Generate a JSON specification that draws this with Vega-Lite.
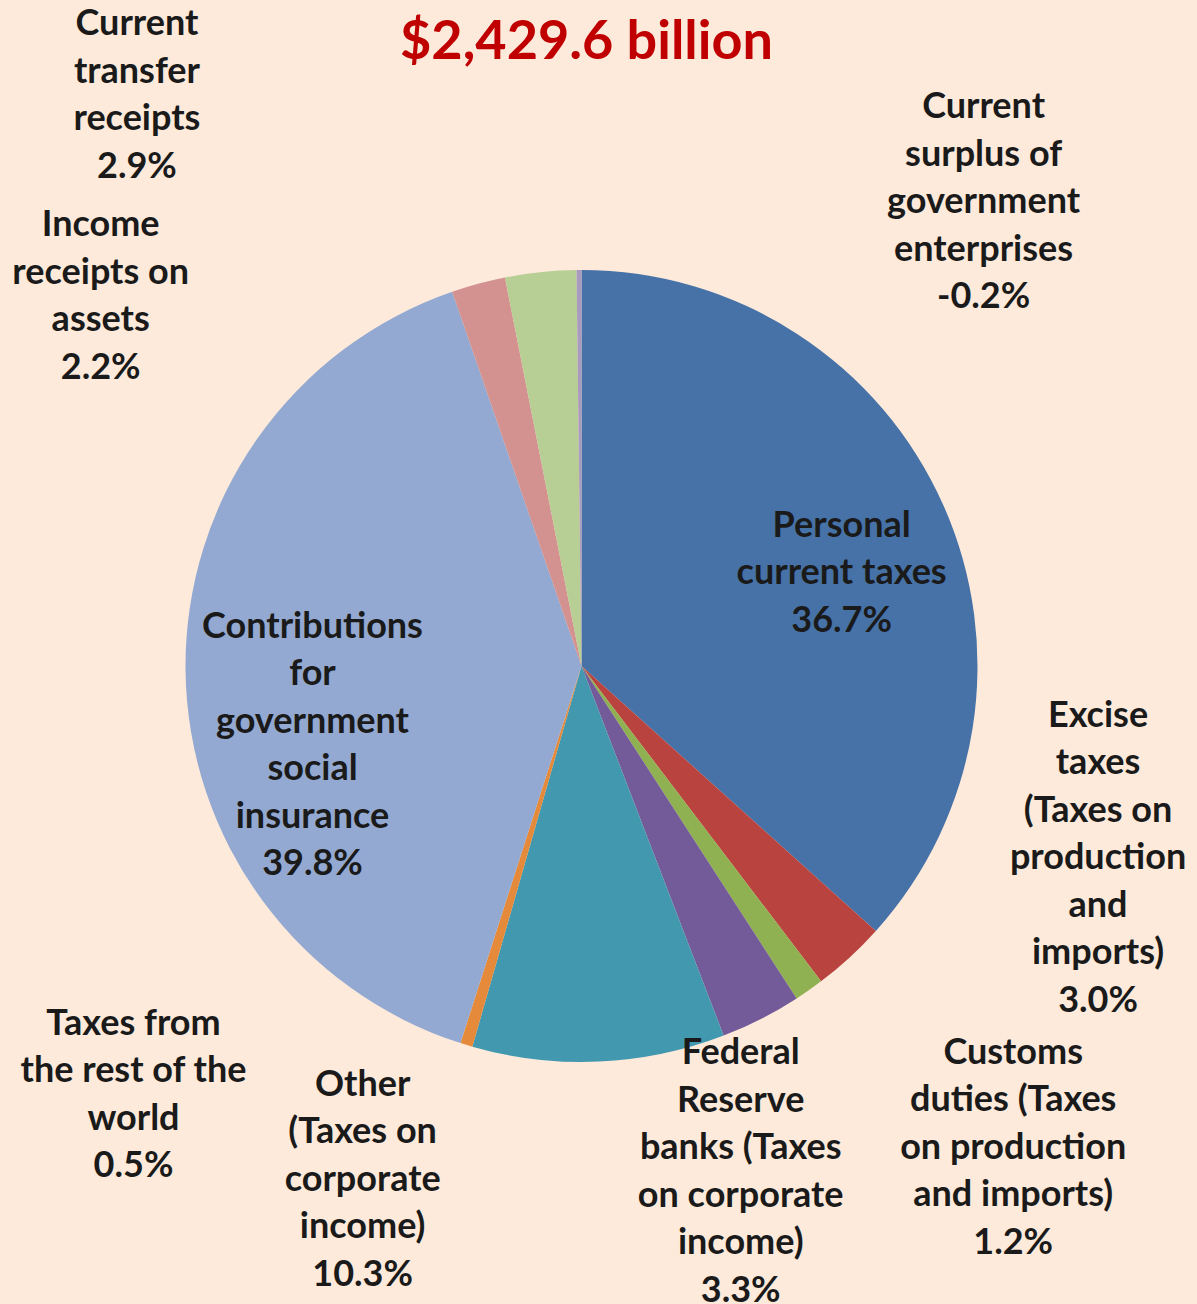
{
  "$schema": "https://vega.github.io/schema/vega-lite/v6.json",
  "width": 1163,
  "height": 1276,
  "autosize": {"type": "none"},
  "padding": {"left": 0, "top": 28, "right": 34, "bottom": 0},
  "background": "#FDEADB",
  "config": {"view": {"stroke": null}},
  "title": {
    "text": "$2,429.6 billion",
    "font": "Lato",
    "fontSize": 54,
    "fontWeight": "bold",
    "color": "#C00000",
    "anchor": "middle",
    "offset": -240,
    "dx": 5
  },
  "data": {
    "values": [
      {"cat": "personal", "label": "Personal\ncurrent taxes\n36.7%", "share": 36.7, "order": 1},
      {"cat": "excise", "label": "Excise\ntaxes\n(Taxes on\nproduction\nand\nimports)\n3.0%", "share": 3.0, "order": 2},
      {"cat": "customs", "label": "Customs\nduties (Taxes\non production\nand imports)\n1.2%", "share": 1.2, "order": 3},
      {"cat": "fed", "label": "Federal\nReserve\nbanks (Taxes\non corporate\nincome)\n3.3%", "share": 3.3, "order": 4},
      {"cat": "other", "label": "Other\n(Taxes on\ncorporate\nincome)\n10.3%", "share": 10.3, "order": 5},
      {"cat": "rest", "label": "Taxes from\nthe rest of the\nworld\n0.5%", "share": 0.5, "order": 6},
      {"cat": "contrib", "label": "Contributions\nfor\ngovernment\nsocial\ninsurance\n39.8%", "share": 39.8, "order": 7},
      {"cat": "income", "label": "Income\nreceipts on\nassets\n2.2%", "share": 2.2, "order": 8},
      {"cat": "transfer", "label": "Current\ntransfer\nreceipts\n2.9%", "share": 2.9, "order": 9},
      {"cat": "surplus", "label": "Current\nsurplus of\ngovernment\nenterprises\n-0.2%", "share": 0.2, "order": 10}
    ]
  },
  "encoding": {
    "theta": {"field": "share", "type": "quantitative", "stack": true},
    "order": {"field": "order", "type": "quantitative"}
  },
  "layer": [
    {
      "mark": {"type": "arc", "outerRadius": 396, "stroke": null},
      "encoding": {
        "color": {
          "field": "cat",
          "type": "nominal",
          "legend": null,
          "scale": {
            "domain": ["personal", "excise", "customs", "fed", "other", "rest", "contrib", "income", "transfer", "surplus"],
            "range": ["#4672A8", "#B8433F", "#8FB151", "#735A98", "#4298AF", "#E48A3A", "#93A9D1", "#D39190", "#B7CE95", "#A99BBF"]
          }
        }
      }
    },
    {
      "mark": {"type": "text", "radius": 276, "dx": 8, "dy": -28, "font": "Lato", "fontSize": 36, "fontWeight": "bold", "lineHeight": 47.5, "lineBreak": "\n", "align": "center", "baseline": "middle", "color": "#1A1A1A"},
      "encoding": {"text": {"condition": {"test": "datum.cat === 'personal'", "field": "label"}, "value": ""}}
    },
    {
      "mark": {"type": "text", "radius": 270, "dx": 1, "dy": -42, "font": "Lato", "fontSize": 36, "fontWeight": "bold", "lineHeight": 47.5, "lineBreak": "\n", "align": "center", "baseline": "middle", "color": "#1A1A1A"},
      "encoding": {"text": {"condition": {"test": "datum.cat === 'contrib'", "field": "label"}, "value": ""}}
    },
    {
      "mark": {"type": "text", "radius": 576, "dx": -385, "dy": -69, "font": "Lato", "fontSize": 36, "fontWeight": "bold", "lineHeight": 47.5, "lineBreak": "\n", "align": "center", "baseline": "middle", "color": "#1A1A1A"},
      "encoding": {"text": {"condition": {"test": "datum.cat === 'transfer'", "field": "label"}, "value": ""}}
    },
    {
      "mark": {"type": "text", "radius": 383, "dx": -381, "dy": -71, "font": "Lato", "fontSize": 36, "fontWeight": "bold", "lineHeight": 47.5, "lineBreak": "\n", "align": "center", "baseline": "middle", "color": "#1A1A1A"},
      "encoding": {"text": {"condition": {"test": "datum.cat === 'income'", "field": "label"}, "value": ""}}
    },
    {
      "mark": {"type": "text", "radius": 464, "dx": 405, "dy": -95, "font": "Lato", "fontSize": 36, "fontWeight": "bold", "lineHeight": 47.5, "lineBreak": "\n", "align": "center", "baseline": "middle", "color": "#1A1A1A"},
      "encoding": {"text": {"condition": {"test": "datum.cat === 'surplus'", "field": "label"}, "value": ""}}
    },
    {
      "mark": {"type": "text", "radius": 500, "dx": 178, "dy": -318, "font": "Lato", "fontSize": 36, "fontWeight": "bold", "lineHeight": 47.5, "lineBreak": "\n", "align": "center", "baseline": "middle", "color": "#1A1A1A"},
      "encoding": {"text": {"condition": {"test": "datum.cat === 'excise'", "field": "label"}, "value": ""}}
    },
    {
      "mark": {"type": "text", "radius": 640, "dx": 64, "dy": -137, "font": "Lato", "fontSize": 36, "fontWeight": "bold", "lineHeight": 47.5, "lineBreak": "\n", "align": "center", "baseline": "middle", "color": "#1A1A1A"},
      "encoding": {"text": {"condition": {"test": "datum.cat === 'customs'", "field": "label"}, "value": ""}}
    },
    {
      "mark": {"type": "text", "radius": 523, "dx": -78, "dy": -79, "font": "Lato", "fontSize": 36, "fontWeight": "bold", "lineHeight": 47.5, "lineBreak": "\n", "align": "center", "baseline": "middle", "color": "#1A1A1A"},
      "encoding": {"text": {"condition": {"test": "datum.cat === 'fed'", "field": "label"}, "value": ""}}
    },
    {
      "mark": {"type": "text", "radius": 504, "dx": -241, "dy": -85, "font": "Lato", "fontSize": 36, "fontWeight": "bold", "lineHeight": 47.5, "lineBreak": "\n", "align": "center", "baseline": "middle", "color": "#1A1A1A"},
      "encoding": {"text": {"condition": {"test": "datum.cat === 'other'", "field": "label"}, "value": ""}}
    },
    {
      "mark": {"type": "text", "radius": 540, "dx": -291, "dy": -159, "font": "Lato", "fontSize": 36, "fontWeight": "bold", "lineHeight": 47.5, "lineBreak": "\n", "align": "center", "baseline": "middle", "color": "#1A1A1A"},
      "encoding": {"text": {"condition": {"test": "datum.cat === 'rest'", "field": "label"}, "value": ""}}
    }
  ]
}
